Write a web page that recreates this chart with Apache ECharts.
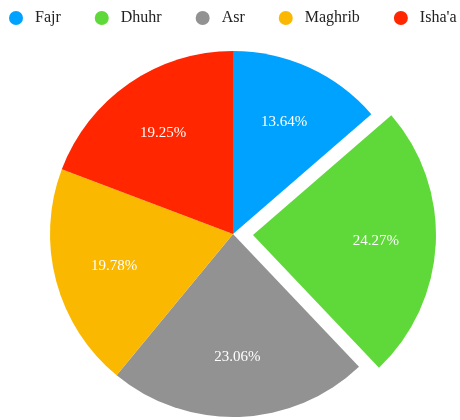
<!DOCTYPE html>
<html>
<head>
<meta charset="utf-8">
<script src="https://cdn.jsdelivr.net/npm/echarts@6/dist/echarts.min.js"></script>
<style>html,body{margin:0;padding:0;background:#fff}#c{width:460px;height:420px}</style>
</head>
<body>
<div id="c"></div>
<script>
const categories = ["Fajr", "Dhuhr", "Asr", "Maghrib", "Isha'a"];
const values = [13.64, 24.27, 23.06, 19.78, 19.25];
const colors = ["#00A2FF", "#5FD83A", "#929292", "#FBB800", "#FF2600"];
const selectedName = "Dhuhr";

const chart = echarts.init(document.getElementById('c'), null, {renderer: 'canvas'});
const font = "Liberation Serif";
const visData = categories.map((n, i) => ({
  name: n, value: values[i], selected: n === selectedName,
  itemStyle: {color: colors[i]}
}));
const labData = categories.map((n, i) => ({
  name: n, value: values[i], selected: n === selectedName
}));
chart.setOption({
  animation: false,
  color: colors,
  textStyle: {fontFamily: font},
  legend: {
    data: categories,
    left: 4, top: 5, width: 520,
    itemWidth: 28, itemHeight: 14, itemGap: 34,
    icon: 'circle',
    selectedMode: false,
    textStyle: {fontFamily: font, fontSize: 16, color: '#222'}
  },
  series: [
    {
      type: 'pie',
      center: [233, 234],
      radius: [0, 183],
      startAngle: 90,
      clockwise: true,
      selectedMode: 'single',
      selectedOffset: 20,
      silent: true,
      label: {show: false},
      labelLine: {show: false},
      itemStyle: {borderWidth: 0},
      data: visData
    },
    {
      type: 'pie',
      center: [233, 234],
      radius: [57, 183],
      startAngle: 90,
      clockwise: true,
      selectedMode: 'single',
      selectedOffset: 20,
      silent: true,
      itemStyle: {color: 'rgba(0,0,0,0)', borderWidth: 0},
      label: {
        show: true, position: 'inside',
        formatter: p => p.value.toFixed(2) + '%',
        color: '#fff', fontFamily: font, fontSize: 15
      },
      labelLine: {show: false},
      data: labData
    }
  ]
});
</script>
</body>
</html>
